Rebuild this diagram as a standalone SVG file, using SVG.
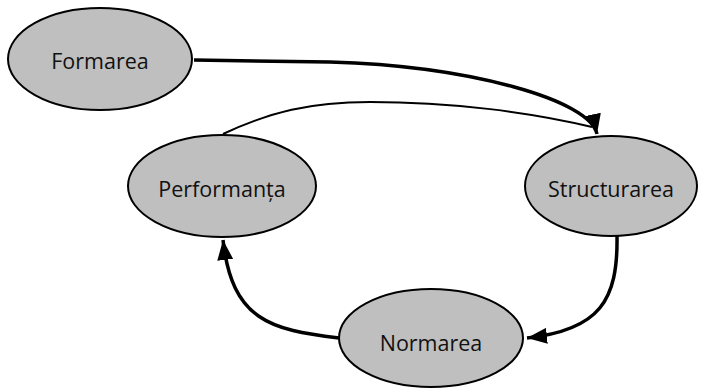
<svg xmlns="http://www.w3.org/2000/svg" width="702" height="388" viewBox="0 0 702 388">
<style>
.node ellipse{fill:#bfbfbf;stroke:#000;stroke-width:2}
.node text{font-family:"Open Sans","Liberation Sans",sans-serif;font-size:21.5px;fill:#111;text-anchor:middle;dominant-baseline:central}
.thick{fill:none;stroke:#000;stroke-width:3.5}
.thin{fill:none;stroke:#000;stroke-width:2}
</style>
<defs>
<marker id="arr" markerUnits="userSpaceOnUse" markerWidth="21" markerHeight="16" refX="20" refY="8" orient="auto" viewBox="0 0 21 16">
<path d="M0,0 L20,8 L0,16 z" fill="#000"/>
</marker>
</defs>
<g id="connectors">
<path class="thick" d="M194,60 L330,62 C470,66 590,100 597,134" marker-end="url(#arr)"/>
<path class="thin" d="M223,134 C270,112 310,102 370,102 C450,102 530,112 592,127"/>
<path class="thick" d="M617,236 C618,300 600,330 527,338" marker-end="url(#arr)"/>
<path class="thick" d="M339,338 C270,330 232,320 223,240" marker-end="url(#arr)"/>
</g>
<g id="formarea" class="node">
<ellipse cx="100" cy="59" rx="92" ry="51"/>
<text x="100" y="60">Formarea</text>
</g>
<g id="structurarea" class="node">
<ellipse cx="611" cy="186" rx="86" ry="50"/>
<text x="611" y="188">Structurarea</text>
</g>
<g id="performanta" class="node">
<ellipse cx="222" cy="186" rx="94" ry="51"/>
<text x="222" y="188">Performanța</text>
</g>
<g id="normarea" class="node">
<ellipse cx="431" cy="338" rx="92" ry="49"/>
<text x="431" y="342">Normarea</text>
</g>
</svg>
